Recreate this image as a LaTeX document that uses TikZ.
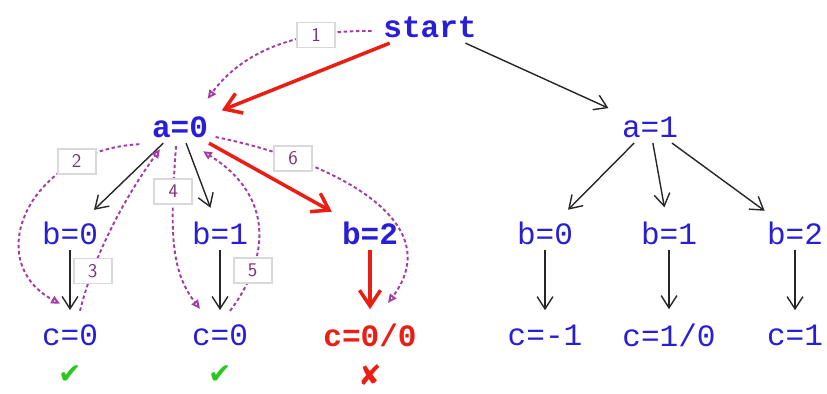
\documentclass[tikz,border=0pt]{standalone}
\usepackage{fontspec}
\setmonofont{Liberation Mono}
\newfontfamily\symfont{DejaVu Sans}
\usetikzlibrary{arrows.meta}

\definecolor{valblue}{RGB}{40,30,215}
\definecolor{hitred}{RGB}{235,30,20}
\definecolor{tracepurple}{RGB}{165,60,165}
\definecolor{okgreen}{RGB}{40,200,30}

\tikzset{
  val/.style={text=valblue, font=\fontsize{17.7}{20}\selectfont\ttfamily, inner sep=3pt},
  valbold/.style={val, font=\fontsize{17.7}{20}\selectfont\ttfamily\bfseries},
  edge/.style={draw=black!85, line width=0.8pt, shorten >=5pt, -{Straight Barb[length=7pt,width=9pt]}},
  hit/.style={edge, draw=hitred, line width=2pt, -{Straight Barb[length=9pt,width=12pt]}},
  trace/.style={draw=tracepurple, line width=1.1pt, dash pattern=on 2pt off 1.5pt, -{Triangle[open,length=5pt,width=4.5pt]}},
  stepnum/.style={solid, draw=black!15, fill=white, text=tracepurple!75!black, font=\sffamily\fontsize{11}{12}\selectfont, minimum width=0.76cm, minimum height=0.5cm, inner sep=1pt},
  verdict/.style={font=\symfont\fontsize{16}{18}\selectfont, inner sep=1pt},
}

\begin{document}
\begin{tikzpicture}[x=0.02cm, y=-0.02cm]
      \useasboundingbox (0,0) rectangle (827,393);

      % tree
      \node[valbold] (st) at (430,27) {start};
      \node[valbold] (a0) at (180,127) {a=0};
      \node[val] (a1) at (650,127) {a=1};

      \node[val] (b00) at (70,233) {b=0};
      \node[val] (b01) at (220,233) {b=1};
      \node[valbold] (b02) at (370,233) {b=2};
      \node[val] (b10) at (545,233) {b=0};
      \node[val] (b11) at (669,233) {b=1};
      \node[val] (b12) at (795,233) {b=2};

      \node[val] (c00) at (70,335) {c=0};
      \node[val] (c01) at (220,335) {c=0};
      \node[valbold, text=hitred] (c02) at (370,335) {c=0/0};
      \node[val] (c10) at (545,335) {c=-1};
      \node[val] (c11) at (669,335) {c=1/0};
      \node[val] (c12) at (795,335) {c=1};

      \node[verdict, text=okgreen] (ok1) at (70,375) {✔};
      \node[verdict, text=okgreen] (ok2) at (220,375) {✔};
      \node[verdict, text=hitred] (fail) at (370,375) {✘};

      \draw[hit] (st) -- (a0);
      \draw[edge] (st) -- (a1);
      \draw[edge] (a0) -- (b00);
      \draw[edge] (a0) -- (b01);
      \draw[hit] (a0) -- (b02);
      \draw[edge] (a1) -- (b10);
      \draw[edge] (a1) -- (b11);
      \draw[edge] (a1) -- (b12);
      \draw[edge] (b00) -- (c00);
      \draw[edge] (b01) -- (c01);
      \draw[hit] (b02) -- (c02);
      \draw[edge] (b10) -- (c10);
      \draw[edge] (b11) -- (c11);
      \draw[edge] (b12) -- (c12);

      % search order
      \draw[trace] ([shift={(-6,4)}]st.west) .. controls (290,30) and (240,55) .. ([shift={(-6,-12)}]a0.north east)
        node[stepnum, pos=0.25] (n1) {1};
      \draw[trace] ([shift={(-7,1)}]a0.south west) .. controls (30,150) and (-20,260) .. ([shift={(-10,-15)}]c00.north)
        node[stepnum, pos=0.22] (n2) {2};
      \draw[trace] ([shift={(10,-8)}]c00.north) .. controls (95,250) and (130,190) .. ([shift={(-20,6)}]a0.south)
        node[stepnum, pos=0.22] (n3) {3};
      \draw[trace] ([shift={(-4,3)}]a0.south) .. controls (170,230) and (170,270) .. ([shift={(-20,-10)}]c01.north)
        node[stepnum, pos=0.2] (n4) {4};
      \draw[trace] ([shift={(10,-8)}]c01.north) .. controls (265,265) and (280,200) .. ([shift={(23,8)}]a0.south)
        node[stepnum, pos=0.27] (n5) {5};
      \draw[trace] ([shift={(2,10)}]a0.east) .. controls (330,160) and (450,220) .. ([shift={(18,-15)}]c02.north)
        node[stepnum, pos=0.23] (n6) {6};
\end{tikzpicture}
\end{document}
